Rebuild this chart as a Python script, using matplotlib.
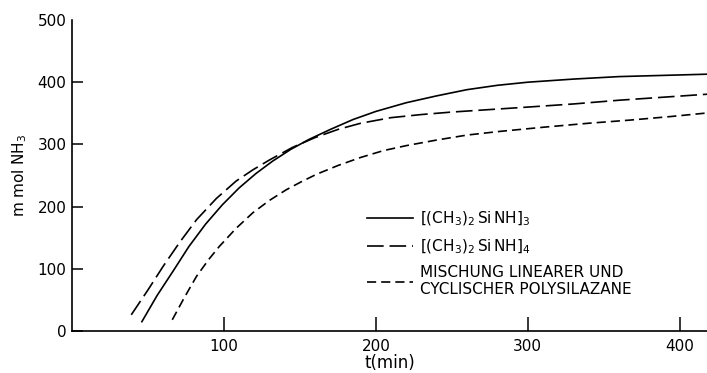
import matplotlib
matplotlib.use("Agg")
import matplotlib.pyplot as plt

# Werte
t_trimer = [46, 56, 67, 77, 88, 99, 110, 121, 132, 144, 156, 170, 185, 200,
            220, 240, 260, 280, 300, 330, 360, 390, 420]
y_trimer = [15, 57, 98, 136, 172, 203, 230, 253, 273, 292, 308, 324, 340, 353,
            367, 378, 388, 395, 400, 405, 409, 411, 413]

t_tetramer = [39, 50, 60, 71, 82, 95, 108, 119, 130, 145, 160, 175, 190, 210,
              230, 250, 275, 300, 330, 360, 390, 420]
y_tetramer = [26, 66, 104, 143, 179, 213, 241, 259, 275, 295, 311, 324, 334, 343,
              348, 352, 356, 360, 365, 371, 376, 381]

t_mix = [66, 74, 82, 90, 97, 108, 119, 130, 141, 151, 161, 175, 190, 205,
         220, 240, 260, 282, 312, 340, 367, 395, 420]
y_mix = [18, 54, 88, 115, 136, 165, 190, 210, 227, 240, 252, 266, 279, 290,
         298, 307, 315, 321, 328, 334, 339, 345, 351]

labels = [r'$\left[(\mathrm{CH_3})_2\,\mathrm{Si\,NH}\right]_3$',
          r'$\left[(\mathrm{CH_3})_2\,\mathrm{Si\,NH}\right]_4$',
          'MISCHUNG LINEARER UND\nCYCLISCHER POLYSILAZANE']

xticks = [100, 200, 300, 400]
yticks = [0, 100, 200, 300, 400, 500]

plt.rcParams['font.family'] = ['DejaVu Sans']
plt.rcParams['mathtext.fontset'] = 'dejavusans'

fig = plt.figure(figsize=(7.07, 3.73), dpi=100)
ax = fig.add_axes([72 / 707, 42 / 373, 635 / 707, 311 / 373])

lw = 1.2
ax.plot(t_trimer, y_trimer, color='black', lw=lw, label=labels[0])
ax.plot(t_tetramer, y_tetramer, color='black', lw=lw,
        linestyle=(0, (10, 3.5)), label=labels[1])
ax.plot(t_mix, y_mix, color='black', lw=lw,
        linestyle=(0, (5.5, 3)), label=labels[2])

ax.set_xlim(0, 418)
ax.set_ylim(0, 500)
ax.set_xticks(xticks)
ax.set_yticks(yticks)
ax.tick_params(axis='x', direction='in', length=10, width=1.1, labelsize=11, pad=6)
ax.tick_params(axis='y', direction='in', length=8, width=1.1, labelsize=11, pad=4)
ax.yaxis.get_major_ticks()[-1].tick1line.set_visible(False)

for s in ['top', 'right']:
    ax.spines[s].set_visible(False)
for s in ['left', 'bottom']:
    ax.spines[s].set_linewidth(1.2)

ax.set_xlabel('t(min)', fontsize=12, labelpad=0)
ax.set_ylabel(r'm mol NH$_3$', fontsize=11, labelpad=6)

leg = ax.legend(loc='upper left', bbox_to_anchor=(0.465, 0.39), frameon=False,
                fontsize=11, handlelength=3.0, handletextpad=0.45,
                labelspacing=0.6, borderaxespad=0, borderpad=0)

fig.savefig('out.png', dpi=100)
